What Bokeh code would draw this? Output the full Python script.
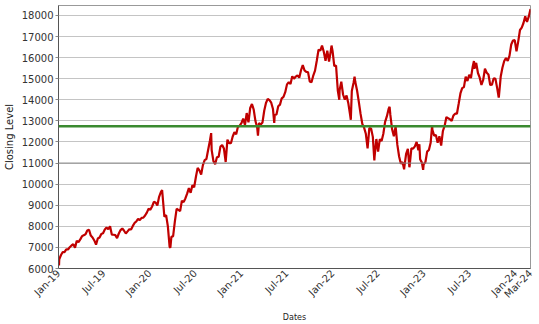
import math
import pandas as pd
from bokeh.plotting import figure
from bokeh.models import Range1d, Span, FixedTicker, DatetimeTickFormatter
from bokeh.embed import file_html
from bokeh.resources import INLINE

# Weekly (Friday) closing levels
close_2019 = [6440, 6640, 6780, 6780, 6910, 6900, 7010, 7090, 7150, 6990, 7310, 7250, 7380,
              7530, 7580, 7620, 7800, 7840, 7560, 7470, 7330, 7130, 7420, 7470, 7640, 7670,
              7850, 7940, 7860, 8000, 7610, 7600, 7580, 7440, 7660, 7820, 7900, 7790, 7660,
              7760, 7860, 7850, 8020, 8160, 8230, 8350, 8300, 8400, 8410, 8510, 8650, 8830]
close_2020 = [8790, 8940, 9160, 9130, 8990, 9400, 9620, 9450, 8460, 8530, 8000, 7020, 7500,
              7530, 8230, 8830, 8780, 8720, 9210, 9150, 9320, 9550, 9810, 9590, 9950, 9850,
              10340, 10770, 10650, 10460, 10900, 11140, 11190, 11630, 12060, 11620, 11090,
              10940, 11270, 11300, 11780, 11850, 11690, 11050, 12110, 11940, 11940, 12260,
              12460, 12370, 12720, 12770, 12890]
close_2021 = [13110, 12800, 13370, 12930, 13610, 13800, 13530, 12990, 12670, 12890, 12820,
              12920, 13480, 13850, 14040, 13980, 13860, 13560, 13280, 13300, 13690, 13770,
              14070, 14140, 14360, 14730, 14830, 14750, 15110, 15000, 15100, 15160, 15050,
              15400, 15650, 15390, 15320, 15310, 14870, 14830, 15150, 15380, 15850, 16370,
              16330, 16570, 16280, 15850, 16330, 15810, 16320, 16320]
close_2022 = [15600, 15620, 14440, 14440, 14860, 14250, 14010, 14200, 13840, 13300, 14420,
              14810, 14840, 14440, 13900, 13330, 12850, 12680, 12390, 11700, 12660, 12640,
              12240, 11290, 12140, 11540, 12130, 12040, 12390, 12950, 13210, 13560, 13280,
              12600, 12270, 12740, 11860, 11310, 10970, 11040, 10820, 11430, 11670, 10860,
              11700, 11680, 11790, 12000, 11600, 11180, 11020, 10940]
close_2023 = [11040, 11540, 11620, 11960, 12580, 12300, 12330, 11960, 12270, 11830, 12520,
              12770, 13180, 13120, 13080, 13000, 13250, 13340, 13340, 13810, 14300, 14550,
              14600, 15090, 14890, 15180, 15030, 15570, 15470, 15750, 15270, 15050, 14700,
              14940, 15470, 15280, 15200, 14700, 14720, 15020, 14990, 14540, 14180, 15100,
              15530, 15840, 15980, 15840, 16080, 16620, 16810, 16830]
close_2024 = [16300, 16770, 17310, 17420, 17640, 17960, 17690, 17940, 18300]

# Mid-week turning points
extra_dates = ["2019-01-02", "2019-01-03", "2020-02-19", "2020-03-23", "2020-09-02",
               "2021-03-08", "2021-05-12", "2021-12-27", "2022-01-27", "2022-03-14",
               "2022-03-29", "2022-06-16", "2022-08-16", "2022-10-13", "2022-11-03",
               "2022-12-13", "2022-12-28", "2023-02-02", "2023-07-19", "2023-10-26"]
extra_values = [6360, 6150, 9720, 6990, 12420, 12300, 12900, 16570, 14000, 13050,
                15100, 11130, 13670, 10700, 10800, 11890, 10680, 12800, 15840, 14110]

reference_level = 12750
y_ticks = [6000, 7000, 8000, 9000, 10000, 11000, 12000, 13000, 14000, 15000, 16000, 17000, 18000]
x_tick_dates = ["2019-01-01", "2019-07-01", "2020-01-01", "2020-07-01", "2021-01-01",
                "2021-07-01", "2022-01-01", "2022-07-01", "2023-01-01", "2023-07-01",
                "2024-01-01", "2024-03-01"]
x_title = "Dates"
y_title = "Closing Level"

weekly = close_2019 + close_2020 + close_2021 + close_2022 + close_2023 + close_2024
weekly_dates = pd.date_range("2019-01-04", periods=len(weekly), freq="W-FRI")
df = pd.DataFrame({"date": list(weekly_dates) + list(pd.to_datetime(extra_dates)),
                   "close": weekly + extra_values}).sort_values("date")

FONT = "DejaVu Sans"

p = figure(width=539, height=324, output_backend="svg", toolbar_location=None,
           x_axis_type="datetime",
           x_range=Range1d(pd.Timestamp("2019-01-01"), pd.Timestamp("2024-03-01")),
           y_range=Range1d(6000, 18470),
           min_border_left=55, min_border_right=9, min_border_top=5, min_border_bottom=56)

p.line(df["date"], df["close"], line_color="#c00000", line_width=2.2)

p.add_layout(Span(location=11000, dimension="width", line_color="#8a8a8a", line_width=1))
p.add_layout(Span(location=reference_level, dimension="width", line_color="#3a8a30", line_width=2.5))

tick_ms = [pd.Timestamp(d).value / 1e6 for d in x_tick_dates]
p.xaxis.ticker = FixedTicker(ticks=tick_ms)
fmt = "%b-%y"
p.xaxis.formatter = DatetimeTickFormatter(microseconds=fmt, milliseconds=fmt, seconds=fmt,
                                          minsec=fmt, minutes=fmt, hourmin=fmt, hours=fmt,
                                          days=fmt, months=fmt, years=fmt)
p.xaxis.major_label_orientation = math.pi / 4
p.yaxis.ticker = FixedTicker(ticks=y_ticks)

p.xgrid.grid_line_color = None
p.ygrid.grid_line_color = "#c4c4c4"
p.ygrid.grid_line_width = 1

for ax in (p.xaxis[0], p.yaxis[0]):
    ax.axis_line_color = "#555555"
    ax.major_label_text_font = FONT
    ax.major_label_text_font_size = "10px"
    ax.major_label_text_color = "#333333"
    ax.minor_tick_line_color = None
    ax.axis_label_text_font = FONT
    ax.axis_label_text_font_style = "normal"
    ax.axis_label_text_color = "#222222"

p.yaxis.major_tick_line_color = "#888888"
p.yaxis.major_tick_out = 3
p.yaxis.major_tick_in = 0
p.yaxis.major_label_standoff = 2
p.yaxis.axis_label = y_title
p.yaxis.axis_label_text_font_size = "10px"
p.yaxis.axis_label_standoff = 4

p.xaxis.major_tick_line_color = None
p.xaxis.major_tick_out = 0
p.xaxis.major_tick_in = 0
p.xaxis.major_label_standoff = 3
p.xaxis.axis_label = x_title
p.xaxis.axis_label_text_font_size = "8px"
p.xaxis.axis_label_standoff = 6

p.outline_line_color = "#999999"
p.background_fill_color = "white"
p.border_fill_color = "white"

open("out.html", "w").write(file_html(p, INLINE))
